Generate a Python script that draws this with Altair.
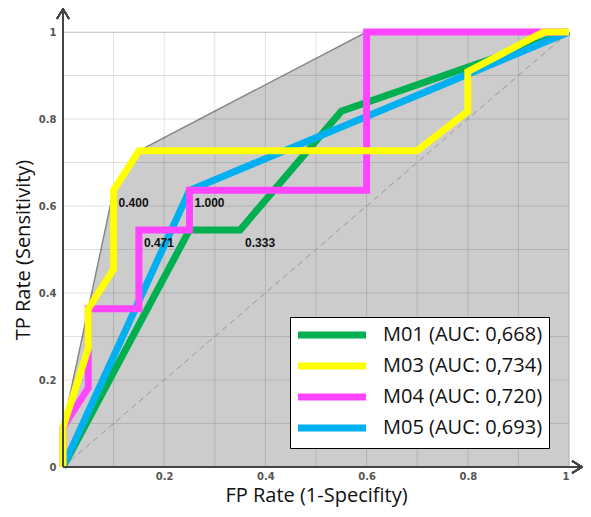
import altair as alt
import pandas as pd

# ---- data ----
models = ["M01", "M03", "M04", "M05"]
auc = ["0,668", "0,734", "0,720", "0,693"]
colors = ["#00b050", "#ffff00", "#ff45ff", "#00b0f0"]

m01_x = [0, 0.25, 0.35, 0.55, 1]
m01_y = [0, 0.545, 0.545, 0.818, 1]
m03_x = [0, 0, 0.05, 0.05, 0.10, 0.10, 0.15, 0.70, 0.80, 0.80, 0.95, 1]
m03_y = [0, 0.091, 0.273, 0.364, 0.455, 0.636, 0.727, 0.727, 0.818, 0.909, 1, 1]
m04_x = [0, 0, 0.05, 0.05, 0.15, 0.15, 0.25, 0.25, 0.60, 0.60, 1]
m04_y = [0, 0.091, 0.182, 0.364, 0.364, 0.545, 0.545, 0.636, 0.636, 1, 1]
m05_x = [0, 0.25, 1]
m05_y = [0, 0.636, 1]

hull_x = [0, 0, 0.10, 0.15, 0.60, 1]
hull_y = [0, 0.091, 0.636, 0.727, 1, 1]

diag_x = [0, 1]
diag_y = [0, 1]

label_x = [0.10, 0.25, 0.15, 0.35]
label_y = [0.636, 0.636, 0.545, 0.545]
label_text = ["0.400", "1.000", "0.471", "0.333"]

grid_vals = [0.1, 0.2, 0.3, 0.4, 0.5, 0.6, 0.7, 0.8, 0.9, 1.0]
x_ticks = [0.2, 0.4, 0.6, 0.8, 1.0]
y_ticks = [0, 0.2, 0.4, 0.6, 0.8, 1.0]

X_END = 1.026   # arrow tip of x axis (beyond the domain)
Y_END = 1.053   # arrow tip of y axis

# ---- tables ----
series = {"M01": (m01_x, m01_y), "M03": (m03_x, m03_y),
          "M04": (m04_x, m04_y), "M05": (m05_x, m05_y)}
rows = []
for m, a in zip(models, auc):
    xs_, ys_ = series[m]
    for i, (xv, yv) in enumerate(zip(xs_, ys_)):
        rows.append({"model": f"{m} (AUC: {a})", "key": m, "i": i, "x": xv, "y": yv})
lines_df = pd.DataFrame(rows)
legend_labels = [f"{m} (AUC: {a})" for m, a in zip(models, auc)]

hull_df = pd.DataFrame({"x": hull_x, "y": hull_y, "y0": [0] * len(hull_x),
                        "i": list(range(len(hull_x)))})
diag_df = pd.DataFrame({"x": diag_x, "y": diag_y})
lab_df = pd.DataFrame({"x": label_x, "y": label_y, "t": label_text})
grid_df = pd.DataFrame({"v": grid_vals})

xs = alt.Scale(domain=[0, 1], nice=False, zero=False)
ys = alt.Scale(domain=[0, 1], nice=False, zero=False)

x_axis = alt.Axis(values=x_ticks, format="~g", grid=False, domain=False, ticks=False,
                  labelFont="DejaVu Sans", labelFontWeight="bold", labelFontSize=10,
                  labelColor="#555555", labelPadding=4,
                  title="FP Rate (1-Specifity)", titleFont="Open Sans", titleFontSize=20,
                  titleFontWeight="normal", titleColor="#111111", titlePadding=4)
y_axis = alt.Axis(values=y_ticks, format="~g", grid=False, domain=False, ticks=False,
                  labelFont="DejaVu Sans", labelFontWeight="bold", labelFontSize=10,
                  labelColor="#555555", labelPadding=7,
                  title="TP Rate (Sensitivity)", titleFont="Open Sans", titleFontSize=20,
                  titleFontWeight="normal", titleColor="#111111", titlePadding=5)

area = alt.Chart(hull_df).mark_area(color="#cccccc", opacity=1, line=False).encode(
    x=alt.X("x:Q", scale=xs, axis=x_axis),
    y=alt.Y("y:Q", scale=ys, axis=y_axis, stack=None),
    y2="y0:Q",
)
hull_line = alt.Chart(hull_df).mark_line(color="#888888", strokeWidth=1.5).encode(
    x="x:Q", y="y:Q", order="i:Q")

vgrid = alt.Chart(grid_df).mark_rule(color="black", opacity=0.12, strokeWidth=1).encode(x="v:Q")
hgrid = alt.Chart(grid_df).mark_rule(color="black", opacity=0.12, strokeWidth=1).encode(y="v:Q")

diag = alt.Chart(diag_df).mark_line(color="#999999", strokeWidth=1, strokeDash=[6, 4]).encode(
    x="x:Q", y="y:Q")

color_scale = alt.Scale(domain=legend_labels, range=colors)
legend = alt.Legend(title=None, orient="none", legendX=227, legendY=285,
                    symbolType="M-4,0H4", symbolSize=289, symbolStrokeWidth=7,
                    symbolOffset=24, labelOffset=39,
                    labelFont="Open Sans", labelFontSize=20, labelColor="#111111",
                    rowPadding=3, padding=6,
                    strokeColor="black", fillColor="white", labelLimit=400)

def model_layer(key, show_legend):
    enc_color = alt.Color("model:N", scale=color_scale,
                          legend=legend if show_legend else None)
    return alt.Chart(lines_df).transform_filter(alt.datum.key == key).mark_line(
        strokeWidth=7, strokeJoin="miter", strokeCap="butt").encode(
        x="x:Q", y="y:Q", color=enc_color, order="i:Q")

m_layers = [model_layer("M01", True), model_layer("M05", False),
            model_layer("M04", False), model_layer("M03", False)]

labels = alt.Chart(lab_df).mark_text(align="left", baseline="middle", dx=5, dy=13,
                                     font="Liberation Sans", fontWeight="bold",
                                     fontSize=12, color="#111111").encode(
    x="x:Q", y="y:Q", text="t:N")

x_line = alt.Chart(grid_df).mark_rule(color="#444444", strokeWidth=2).encode(
    x=alt.datum(0), x2=alt.datum(X_END), y=alt.datum(0))
y_line = alt.Chart(grid_df).mark_rule(color="#444444", strokeWidth=2).encode(
    y=alt.datum(0), y2=alt.datum(Y_END), x=alt.datum(0))
x_arrow = alt.Chart(grid_df).mark_point(shape="M-1,-0.6L0,0L-1,0.6", size=400, filled=False,
                                        color="#444444", strokeWidth=1.5, opacity=1).encode(
    x=alt.datum(X_END), y=alt.datum(0))
y_arrow = alt.Chart(grid_df).mark_point(shape="M-0.6,1L0,0L0.6,1", size=400, filled=False,
                                        color="#444444", strokeWidth=1.5, opacity=1).encode(
    x=alt.datum(0), y=alt.datum(Y_END))

chart = alt.layer(area, hull_line, vgrid, hgrid, diag, *m_layers, labels,
                  x_line, y_line, x_arrow, y_arrow).properties(
    width=506, height=435,
    autosize="none",
    padding={"left": 55, "top": 24, "right": 14, "bottom": 42},
).configure_view(stroke=None).configure(background="white")

chart.save("out.html", embed_options={"renderer": "svg", "actions": False})
